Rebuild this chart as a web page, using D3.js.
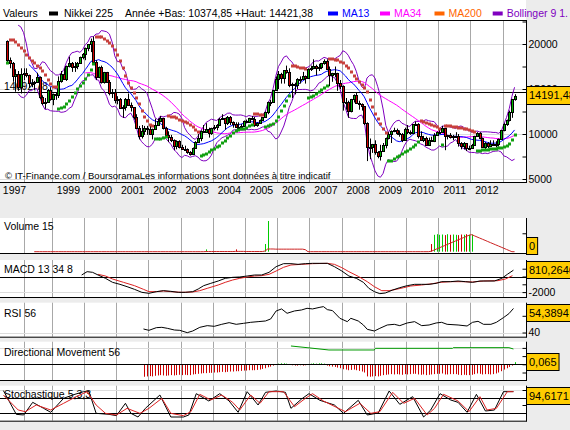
<!DOCTYPE html>
<html>
<head>
<meta charset="utf-8">
<script src="https://cdn.jsdelivr.net/npm/d3@7"></script>
<style>
html,body{margin:0;padding:0;background:#ececec;overflow:hidden}
svg{display:block}
text{font-family:"Liberation Sans",Arial,sans-serif}
</style>
</head>
<body>
<svg id="chart" width="570" height="430"></svg>
<script>
// ================= DATA =================
const seriesName = "Nikkei 225";
const headerInfo = "Année +Bas: 10374,85 +Haut: 14421,38";
const firstMonth = "1997-08";
const lastMonth = "2013-05";
const warmupFirstMonth = "1997-04";           // months only used to start the indicators
const warmupCloses = [19151, 20069, 20605, 20331];
const warmupVolumes = [0, 0, 0, 0];

const opens = [
 20331,18229,17888,16459,16636,
 15259,16628,16832,16527,15641,15671,15831,16379,14108,13406,13565,14883,
 13842,14499,14368,15837,16702,16112,17530,17862,17437,17606,17942,18558,
 18934,19540,19960,20337,17974,16332,17411,15727,16861,15747,14539,14649,
 13786,13843,12884,12999,13934,13262,12969,11861,10714,9775,10366,10697,
 10543,9998,10588,11025,11493,11764,10622,9878,9619,9383,8640,9216,
 8579,8340,8363,7973,7831,8425,9083,9563,10344,10219,10560,10101,
 10677,10784,11042,11715,11762,11236,11858,11326,11082,10824,10771,10899,
 11489,11388,11741,11669,11009,11277,11584,11900,12414,13574,13607,14872,
 16111,16650,16206,17060,16907,15467,15505,15457,16141,16128,16399,16274,
 17226,17383,17604,17288,17400,17876,18138,17249,16569,16786,16738,15681,
 15308,13592,13603,12526,13850,14339,13482,13377,13073,11260,8577,8512,
 8860,7994,7568,8110,8828,9523,9958,10357,10493,10133,10035,9346,
 10546,10198,10126,11090,11057,9769,9383,9537,8824,9369,9202,9937,
 10229,10238,10624,9755,9850,9694,9816,9833,8955,8700,8988,8435,
 8455,8803,9723,10084,9521,8543,9007,8695,8840,8870,8928,9446,
 10395,11139,11559,12398,13861];
const highs = [
 20400,18500,18000,17200,17000,
 17300,17300,17300,16600,16100,15900,16800,16400,14300,14000,15000,15200,
 14500,14600,16400,17000,17300,17600,18600,18000,18000,18000,18600,19000,
 19600,20000,20600,20833,18200,17500,17600,16900,16900,16000,15000,15000,
 14200,14000,13200,14000,14500,13500,13000,12200,10900,11000,10900,10900,
 10900,10600,11700,11700,12000,11800,10800,10300,9900,9400,9300,9300,
 8800,8700,8400,8100,8500,9200,10000,10400,11000,11200,10700,10700,
 11000,11100,11800,12200,11800,12000,12000,11400,11300,11300,11100,11500,
 11600,11800,12000,11900,11300,11600,11900,12500,13600,13800,14900,16400,
 17000,16800,17100,17600,17300,15700,15700,16200,16400,16900,16500,17300,
 17600,18300,17700,17800,17900,18300,18300,17500,16800,17500,16800,16000,
 15400,14000,13700,13900,14400,14600,13700,13400,13100,11300,9500,8900,
 9300,8100,8800,9000,9600,10200,10400,10700,10600,10400,10100,10700,
 11000,10400,11100,11400,11200,10300,9800,9700,9600,9700,10100,10300,
 10600,10900,10700,9900,10100,9900,10200,10000,9100,9100,9000,8700,
 8900,9800,10200,10200,9600,9100,9100,9300,9300,9200,9500,10400,
 11200,11600,12600,13900,14421];
const lows = [
 17900,17300,15800,14700,14800,
 14500,16000,16300,15100,15200,14900,15800,13900,13200,12800,13500,13700,
 13200,13800,14000,15700,16000,15900,17400,16900,16900,17200,17800,18300,
 18200,19200,19100,17800,16000,16200,15600,15600,15700,14300,14000,13400,
 13300,12800,11800,12600,13200,12500,11600,10600,9400,9500,9900,9900,
 9900,9400,10500,10900,11300,10500,9800,9100,9100,8200,8300,8400,
 8300,8300,7800,7600,7800,8400,9000,9200,10100,10200,9600,9900,
 10400,10400,10900,11700,10500,11000,11000,10700,10800,10600,10700,10900,
 11200,11300,11600,10800,10800,11200,11500,11800,12200,13100,13500,14800,
 15000,15600,15600,16700,15200,14000,14400,15000,15600,16000,15600,16200,
 17000,17200,16500,17000,17200,17700,17200,15300,15800,16300,14800,15000,
 12600,12700,11800,12400,13500,13400,12700,12600,11000,6990,7200,7900,
 7700,7300,7050,8000,8400,9400,9000,10200,9900,9700,9100,9300,
 10000,9900,10100,10900,9500,9300,9100,8800,8800,9200,9100,9900,
 10200,10200,8200,9400,9500,9300,9800,8600,8300,8300,8100,8200,
 8400,8800,9700,9400,8500,8300,8400,8600,8700,8500,8600,9400,
 10300,10900,11400,11800,13700];
const closes = [
 18229,17888,16459,16636,15259,
 16628,16832,16527,15641,15671,15831,16379,14108,13406,13565,14883,13842,
 14499,14368,15837,16702,16112,17530,17862,17437,17606,17942,18558,18934,
 19540,19960,20337,17974,16332,17411,15727,16861,15747,14539,14649,13786,
 13843,12884,12999,13934,13262,12969,11861,10714,9775,10366,10697,10543,
 9998,10588,11025,11493,11764,10622,9878,9619,9383,8640,9216,8579,
 8340,8363,7973,7831,8425,9083,9563,10344,10219,10560,10101,10677,
 10784,11042,11715,11762,11236,11858,11326,11082,10824,10771,10899,11489,
 11388,11741,11669,11009,11277,11584,11900,12414,13574,13607,14872,16111,
 16650,16206,17060,16907,15467,15505,15457,16141,16128,16399,16274,17226,
 17383,17604,17288,17400,17876,18138,17249,16569,16786,16738,15681,15308,
 13592,13603,12526,13850,14339,13482,13377,13073,11260,8577,8512,8860,
 7994,7568,8110,8828,9523,9958,10357,10493,10133,10035,9346,10546,
 10198,10126,11090,11057,9769,9383,9537,8824,9369,9202,9937,10229,
 10238,10624,9755,9850,9694,9816,9833,8955,8700,8988,8435,8455,
 8803,9723,10084,9521,8543,9007,8695,8840,8870,8928,9446,10395,
 11139,11559,12398,13861,14191.48];
const volumes = [
 0,0,0,0,0,
 0,0,0,0,0,0,0,0,0,0,0,0,
 0,0,0,0,0,0,0,0,0,0,0,0,
 0,0,0,0,0,0,0,0,0,0,0,0,
 0,0,0,0,0,0,0,0,0,0,0,0,
 0,0,0,0,0,0,0,0,0,0,0,0,
 0,0,0,0,0,0,0,0,0,7.5,0,0,
 0,0,0,0,0,0,0,0,7.5,0,0,0,
 0,0,0,0,0,0,0,25,100,0,0,0,
 0,0,0,0,0,0,0,0,0,0,0,0,
 0,0,0,0,0,0,0,0,0,0,0,0,
 0,0,0,0,0,0,0,0,0,0,0,0,
 0,0,0,0,0,0,0,0,0,0,0,0,
 0,0,0,0,0,0,0,0,0,25,55,57,
 55,56,54,57,55,56,55,54,56,55,57,55,
 56,0,0,0,0,0,0,0,0,0,0,0,
 0,0,0,0,0];

const refLevel = 14692.78;
const refLabel = "14692,78";
const lastLabel = "14191,48";

// MACD 13 34 8 : [decimal year, value]
const macdLine = [[1999.93,192],[2000.10,620],[2000.27,534],[2000.44,192],[2000.67,-235],[2000.89,-748],[2001.12,-1004],[2001.34,-1304],[2001.57,-1646],[2001.80,-2030],[2002.02,-2159],[2002.25,-1945],[2002.47,-1816],[2002.70,-1902],[2002.93,-2030],[2003.15,-2030],[2003.38,-1945],[2003.55,-1603],[2003.72,-1175],[2003.94,-876],[2004.17,-577],[2004.39,-235],[2004.62,-107],[2004.84,-64],[2005.07,64],[2005.30,192],[2005.52,192],[2005.75,534],[2005.97,1261],[2006.20,1645],[2006.43,1645],[2006.65,1560],[2006.88,1645],[2007.10,1688],[2007.33,1688],[2007.56,1688],[2007.78,1261],[2008.01,705],[2008.23,64],[2008.46,-235],[2008.68,-748],[2008.85,-1517],[2009.02,-1945],[2009.19,-2201],[2009.36,-2116],[2009.59,-1731],[2009.81,-1432],[2010.04,-1175],[2010.27,-1004],[2010.49,-1004],[2010.72,-1004],[2010.94,-876],[2011.11,-662],[2011.39,-662],[2011.62,-577],[2011.85,-662],[2012.07,-748],[2012.30,-577],[2012.52,-577],[2012.75,-577],[2012.98,-235],[2013.15,278],[2013.34,810.26]];
const macdSignal = [[2000.44,278],[2000.67,64],[2000.89,-321],[2001.23,-748],[2001.57,-1175],[2001.85,-1645],[2002.02,-1945],[2002.25,-1945],[2002.47,-1859],[2002.70,-1945],[2003.04,-2030],[2003.38,-1987],[2003.60,-1816],[2003.83,-1517],[2004.17,-1090],[2004.39,-748],[2004.62,-449],[2004.84,-235],[2005.07,-64],[2005.30,64],[2005.52,107],[2005.75,278],[2005.97,705],[2006.20,1175],[2006.43,1475],[2006.76,1560],[2007.10,1645],[2007.56,1688],[2007.78,1560],[2008.01,1133],[2008.23,620],[2008.52,21],[2008.80,-662],[2009.02,-1304],[2009.25,-1816],[2009.48,-1816],[2009.70,-1645],[2009.93,-1432],[2010.15,-1218],[2010.49,-1090],[2010.83,-919],[2011.06,-748],[2011.39,-662],[2011.73,-662],[2012.07,-705],[2012.41,-577],[2012.86,-534],[2013.09,-321],[2013.31,107]];
const macdLabel = "810,2646";

// RSI 56
const rsiLine = [[2001.85,42.1],[2002.02,41.3],[2002.25,42.9],[2002.42,43.1],[2002.59,42.5],[2002.81,41.5],[2002.98,41.3],[2003.21,39.9],[2003.38,40.9],[2003.60,43.1],[2003.83,44.1],[2004.05,43.7],[2004.28,44.9],[2004.51,45.9],[2004.73,44.9],[2004.96,45.5],[2005.18,46.1],[2005.41,46.5],[2005.64,46.9],[2005.80,48.1],[2005.97,52.9],[2006.14,54.1],[2006.31,51.5],[2006.54,52.9],[2006.76,53.5],[2006.93,54.5],[2007.10,54.1],[2007.33,55.1],[2007.44,55.5],[2007.56,53.7],[2007.72,53.1],[2007.95,48.5],[2008.18,46.5],[2008.29,48.5],[2008.52,46.9],[2008.68,44.5],[2008.80,41.9],[2009.02,40.9],[2009.19,42.5],[2009.42,44.5],[2009.64,44.9],[2009.81,44.1],[2010.04,45.7],[2010.27,46.5],[2010.49,44.1],[2010.72,44.5],[2010.94,45.7],[2011.11,46.1],[2011.28,44.9],[2011.62,44.5],[2011.90,43.9],[2012.07,46.1],[2012.24,46.7],[2012.41,44.9],[2012.64,44.9],[2012.81,46.1],[2013.03,48.9],[2013.20,51.3],[2013.34,54.39]];
const rsiLabel = "54,3894";

// Directional Movement 56
const dmLine = [[2006.43,0.558],[2006.93,0.507],[2007.61,0.436],[2009.02,0.436],[2009.05,0.487],[2011.45,0.487],[2011.47,0.507],[2013.20,0.507],[2013.34,0.466]];
const dmFirstMonth = "2001-11";
const dmBars = [
 -0.38,-0.37,
 -0.36,-0.37,-0.35,-0.34,-0.33,-0.34,-0.35,-0.34,-0.33,-0.34,-0.33,-0.32,
 -0.33,-0.32,-0.33,-0.33,-0.31,-0.30,-0.29,-0.28,-0.27,-0.27,-0.26,-0.26,
 -0.25,-0.25,-0.24,-0.23,-0.24,-0.23,-0.22,-0.22,-0.21,-0.21,-0.20,-0.19,
 -0.19,-0.18,-0.18,-0.18,-0.17,-0.16,-0.14,-0.12,-0.09,-0.07,-0.04,-0.02,
 0.02,0.03,0.03,0.02,0.01,-0.03,-0.04,-0.04,-0.03,-0.04,-0.03,0.01,
 0.02,0.03,0.02,0.03,0.03,0.02,-0.04,-0.06,-0.07,-0.08,-0.10,-0.12,
 -0.15,-0.16,-0.18,-0.17,-0.16,-0.18,-0.20,-0.22,-0.25,-0.37,-0.38,-0.37,
 -0.36,-0.37,-0.35,-0.33,-0.32,-0.31,-0.30,-0.31,-0.30,-0.31,-0.32,-0.30,
 -0.31,-0.30,-0.29,-0.29,-0.31,-0.32,-0.31,-0.33,-0.32,-0.31,-0.30,-0.29,
 -0.29,-0.28,-0.31,-0.31,-0.30,-0.30,-0.30,-0.32,-0.33,-0.32,-0.33,-0.33,
 -0.32,-0.30,-0.28,-0.29,-0.31,-0.30,-0.30,-0.31,-0.30,-0.28,-0.25,-0.21,
 -0.16,-0.12,-0.08,-0.04,0.065];
const dmLabel = "0,065";

// Stochastique 5,3,3
const stochK = [[1997.50,98],[1997.90,18.9],[1998.13,16.7],[1998.41,58.9],[1998.75,38.9],[1998.97,25.6],[1999.37,72.2],[1999.65,83.3],[1999.99,94.4],[2000.16,94.4],[2000.38,22.2],[2000.78,18.9],[2001.01,14.4],[2001.29,55.6],[2001.46,22.2],[2001.68,10],[2001.91,38.9],[2002.36,83.3],[2002.70,10],[2003.09,10],[2003.26,16.7],[2003.49,87.8],[2003.88,63.3],[2004.22,87.8],[2004.51,63.3],[2004.79,25.6],[2005.07,94.4],[2005.41,50],[2005.64,92.2],[2005.97,96.7],[2006.26,92.2],[2006.43,38.9],[2006.76,70],[2006.99,87.8],[2007.33,65.6],[2007.78,50],[2008.06,22.2],[2008.52,65.6],[2008.80,16.7],[2009.14,23.3],[2009.48,96.7],[2009.81,52.2],[2010.21,77.8],[2010.55,10],[2010.77,33.3],[2011.06,87.8],[2011.39,66.7],[2011.62,58.9],[2011.90,25.6],[2012.19,85.6],[2012.47,30],[2012.75,33.3],[2013.03,94.4],[2013.34,94.62]];
const stochD = [[1997.50,83.3],[1997.96,33.3],[1998.18,27.8],[1998.52,50],[1998.97,33.3],[1999.37,55.6],[1999.76,77.8],[2000.10,94.4],[2000.38,50],[2000.67,22.2],[2001.01,16.7],[2001.34,38.9],[2001.74,22.2],[2002.02,38.9],[2002.42,72.2],[2002.70,22.2],[2003.09,14.4],[2003.32,27.8],[2003.60,85.6],[2003.94,66.7],[2004.28,83.3],[2004.62,58.9],[2004.84,33.3],[2005.18,83.3],[2005.47,55.6],[2005.75,94.4],[2006.20,94.4],[2006.54,44.4],[2006.88,72.2],[2007.10,87.8],[2007.44,63.3],[2008.12,27.8],[2008.57,55.6],[2008.91,22.2],[2009.19,27.8],[2009.59,92.2],[2009.93,55.6],[2010.27,72.2],[2010.66,16.7],[2010.89,38.9],[2011.17,85.6],[2011.62,63.3],[2011.96,27.8],[2012.30,77.8],[2012.52,33.3],[2012.81,38.9],[2013.15,94.4],[2013.34,94.4]];
const stochLabel = "94,6171";

// axis ticks and labels
const gridYears = [1998.15,1999,2000,2001,2002,2003,2004,2005,2006,2007,2008,2009,2010,2011,2012,2013];
const xLabels = ["1997","1999","2000","2001","2002","2003","2004","2005","2006","2007","2008","2009","2010","2011","2012"];
const xLabelYears = [1997.83,1999.5,2000.5,2001.5,2002.5,2003.5,2004.5,2005.5,2006.5,2007.5,2008.5,2009.5,2010.5,2011.5,2012.5];
const priceTicks = [22500,20000,17500,15000,12500,10000,7500,5000];
const priceTickLabels = ["","20000","","15000","","10000","","5000"];
const legendItems = [["MA13","#0000ff"],["MA34","#ff00ff"],["MA200","#ff6600"],["Bollinger 9 1.","#8000c0"]];

// ================= DRAW =================
const svg = d3.select("#chart");
const W = 526;
const FS = 10.5;
const parse = d3.timeParse("%Y-%m");
const tOf = d => d.getFullYear() + (d.getMonth() + 0.5) / 12;
const monthDates = d3.timeMonth.range(parse(firstMonth), d3.timeMonth.offset(parse(lastMonth), 1));
const warmDates = d3.timeMonth.range(parse(warmupFirstMonth), parse(firstMonth));

const x = d3.scaleLinear().domain([1997, 2013]).range([-12.7, 502.5]);
const y = d3.scaleLinear().domain([5000, 20000]).range([179, 44]);

const candles = monthDates.map((d, i) => ({t: tOf(d), o: opens[i], h: highs[i], l: lows[i], c: closes[i], v: volumes[i]}));
const allT = warmDates.map(tOf).concat(monthDates.map(tOf));
const allC = warmupCloses.concat(closes);
const allV = warmupVolumes.concat(volumes);

function sma(arr, n) { return arr.map((v, i) => i < n - 1 ? null : d3.mean(arr.slice(i - n + 1, i + 1))); }
function boll(arr, n, k) {
  return arr.map((v, i) => {
    if (i < n - 1) return null;
    const s = arr.slice(i - n + 1, i + 1), m = d3.mean(s), sd = d3.deviation(s);
    return [m + k * sd, m - k * sd];
  });
}
function psar(h, l, step, maxAf) {
  const out = [];
  let up = true, af = step, ep = h[0], sar = l[0];
  out.push({s: sar, up});
  for (let i = 1; i < h.length; i++) {
    let nx = sar + af * (ep - sar);
    if (up) {
      nx = Math.min(nx, l[i - 1], l[Math.max(0, i - 2)]);
      if (l[i] < nx) { up = false; nx = ep; ep = l[i]; af = step; }
      else if (h[i] > ep) { ep = h[i]; af = Math.min(af + step, maxAf); }
    } else {
      nx = Math.max(nx, h[i - 1], h[Math.max(0, i - 2)]);
      if (h[i] > nx) { up = true; nx = ep; ep = h[i]; af = step; }
      else if (l[i] < ep) { ep = l[i]; af = Math.min(af + step, maxAf); }
    }
    sar = nx; out.push({s: sar, up});
  }
  return out;
}

const ma13 = sma(allC, 13).map((v, i) => ({t: allT[i], v}));
const ma34 = sma(allC, 34).map((v, i) => ({t: allT[i], v}));
const bb = boll(allC, 9, 2);
const bbUp = bb.map((b, i) => ({t: allT[i], v: b ? b[0] : null}));
const bbLo = bb.map((b, i) => ({t: allT[i], v: b ? b[1] : null}));
const sar = psar(highs, lows, 0.02, 0.2);
const volMa = sma(allV, 15).map((v, i) => ({t: allT[i], v}));

const crisp = v => Math.round(v) + 0.5;

// ---------- header ----------
svg.append("rect").attr("x", 0).attr("y", 0).attr("width", W).attr("height", 20).attr("fill", "#fff");
const hdr = svg.append("g").attr("font-size", FS);
hdr.append("text").attr("x", 3).attr("y", 16.5).text("Valeurs");
hdr.append("rect").attr("x", 49).attr("y", 11.5).attr("width", 9).attr("height", 4).attr("fill", "#000");
hdr.append("text").attr("x", 64).attr("y", 16.5).text(seriesName);
hdr.append("text").attr("x", 125).attr("y", 16.5).text(headerInfo);
const legX = [328, 380, 434.5, 492.7];
legendItems.forEach((it, i) => {
  hdr.append("rect").attr("x", legX[i]).attr("y", 11.5).attr("width", 10).attr("height", 4).attr("fill", it[1]);
  hdr.append("text").attr("x", legX[i] + 14).attr("y", 16.5).attr("fill", it[1]).text(it[0]);
});

// ---------- main panel ----------
const mTop = 20, mBot = 182;
svg.append("rect").attr("x", 0).attr("y", mTop).attr("width", W).attr("height", mBot - mTop).attr("fill", "#fff");
svg.append("clipPath").attr("id", "mclip").append("rect").attr("x", 0).attr("y", mTop).attr("width", W).attr("height", mBot - mTop);
const main = svg.append("g").attr("clip-path", "url(#mclip)");

function vGrid(g, top, bot) {
  g.selectAll(null).data(gridYears).enter().append("line")
    .attr("x1", d => crisp(x(d))).attr("x2", d => crisp(x(d)))
    .attr("y1", top).attr("y2", bot).attr("stroke", "#a8a8a8").attr("stroke-width", 1);
}
function hLine(g, yy, color) {
  g.append("line").attr("x1", 0).attr("x2", W).attr("y1", crisp(yy)).attr("y2", crisp(yy)).attr("stroke", color).attr("stroke-width", 1);
}
[20000, 15000, 10000, 5000].forEach(v => hLine(main, y(v), "#dcdcdc"));
vGrid(main, mTop, mBot);

main.append("text").attr("x", 4).attr("y", y(refLevel) - 2).attr("font-size", FS).text(refLabel);
hLine(main, y(refLevel), "#000");

const lineGen = sc => d3.line().defined(d => d.v != null).x(d => x(d.t)).y(d => sc(d.v));
main.append("path").datum(bbUp).attr("d", lineGen(y)).attr("fill", "none").attr("stroke", "#8000c0").attr("stroke-width", 1);
main.append("path").datum(bbLo).attr("d", lineGen(y)).attr("fill", "none").attr("stroke", "#8000c0").attr("stroke-width", 1);
main.append("path").datum(ma34).attr("d", lineGen(y)).attr("fill", "none").attr("stroke", "#ff00ff").attr("stroke-width", 1);
main.append("path").datum(ma13).attr("d", lineGen(y)).attr("fill", "none").attr("stroke", "#0000ff").attr("stroke-width", 1);

// candles
const cg = main.append("g");
candles.forEach(d => {
  const px = Math.round(x(d.t));
  cg.append("line").attr("x1", px + 0.5).attr("x2", px + 0.5).attr("y1", y(d.h)).attr("y2", y(d.l)).attr("stroke", "#000");
  const top = Math.round(y(Math.max(d.o, d.c))), bot = Math.round(y(Math.min(d.o, d.c)));
  cg.append("rect").attr("x", px - 0.5).attr("y", top + 0.5).attr("width", 2).attr("height", Math.max(1, bot - top))
    .attr("fill", d.c >= d.o ? "#00b400" : "#d00000").attr("stroke", "#000").attr("stroke-width", 1);
});
// parabolic SAR dots
const sg = main.append("g");
sar.forEach((s, i) => {
  sg.append("rect").attr("x", Math.round(x(candles[i].t)) - 1).attr("y", Math.round(y(s.s)) - 1.5)
    .attr("width", 3).attr("height", 3).attr("fill", s.up ? "#12a012" : "#c8403c");
});
main.append("text").attr("x", 5).attr("y", 178.5).attr("font-size", 9.5)
  .text("© IT-Finance.com / BoursoramaLes informations sont données à titre indicatif");

svg.append("line").attr("x1", 0).attr("x2", W + 0.5).attr("y1", 20.5).attr("y2", 20.5).attr("stroke", "#000");
svg.append("line").attr("x1", 0).attr("x2", W + 0.5).attr("y1", mBot + 0.5).attr("y2", mBot + 0.5).attr("stroke", "#000");

function rightAxis(sc, ticks, labels, top, bot) {
  const ax = d3.axisRight(sc).tickValues(ticks).tickSizeInner(-4).tickSizeOuter(0).tickPadding(2)
    .tickFormat((d, i) => labels[i]);
  const g = svg.append("g").attr("transform", `translate(${W + 0.5},0)`).call(ax);
  g.select(".domain").remove();
  g.selectAll("text").attr("font-size", FS).attr("font-family", "Liberation Sans, Arial, sans-serif").attr("fill", "#000");
  g.selectAll("line").attr("stroke", "#000");
  svg.append("line").attr("x1", W + 0.5).attr("x2", W + 0.5).attr("y1", top).attr("y2", bot + 1).attr("stroke", "#000");
}
rightAxis(y, priceTicks, priceTickLabels, mTop, mBot);

function valueBox(text, vy, top, bot, h) {
  let y0 = Math.max(top + 1, Math.min(bot - h, vy - h / 2 - 1));
  y0 = Math.round(y0);
  const g = svg.append("g");
  const r = g.append("rect");
  const t = g.append("text").attr("x", 529).attr("y", y0 + h / 2 + 4).attr("font-size", 11).text(text);
  const w = t.node().getComputedTextLength();
  r.attr("x", W + 0.5).attr("y", y0 + 0.5).attr("width", w + 5).attr("height", h).attr("fill", "#ffcc00").attr("stroke", "#000");
}
valueBox(lastLabel, y(closes[closes.length - 1]), mTop, mBot, 18);

// x axis labels
const xa = d3.axisBottom(x).tickValues(xLabelYears).tickSize(0).tickPadding(0).tickFormat((d, i) => xLabels[i]);
const xg = svg.append("g").attr("transform", "translate(0,186)").call(xa);
xg.select(".domain").remove();
xg.selectAll("text").attr("font-size", FS).attr("font-family", "Liberation Sans, Arial, sans-serif").attr("fill", "#000").attr("dy", "0.75em");

// ---------- lower panels ----------
function lowerPanel(p) {
  svg.append("rect").attr("x", 0).attr("y", p.top).attr("width", W).attr("height", p.bot - p.top).attr("fill", "#fff");
  const g = svg.append("g");
  vGrid(g, p.top, p.bot);
  return g;
}
function finishPanel(p, sc, ticks, labels, label, vy) {
  svg.append("line").attr("x1", 0).attr("x2", W + 0.5).attr("y1", p.bot + 0.5).attr("y2", p.bot + 0.5).attr("stroke", "#000");
  rightAxis(sc, ticks, labels, p.top, p.bot);
  valueBox(label, vy, p.top, p.bot + 0.5, 17);
}
const pairLine = sc => d3.line().x(d => x(d[0])).y(d => sc(d[1]));

// Volume
const pV = {top: 218, bot: 253};
const yV = d3.scaleLinear().domain([0, 100]).range([251.7, 221]);
let g = lowerPanel(pV);
g.append("text").attr("x", 4).attr("y", 230).attr("font-size", FS).text("Volume 15");
candles.forEach(d => {
  if (d.v > 0) {
    const px = Math.round(x(d.t)) + 0.5;
    g.append("line").attr("x1", px).attr("x2", px).attr("y1", yV(0)).attr("y2", yV(d.v))
      .attr("stroke", d.c >= d.o ? "#00cc00" : "#cc0000");
  }
});
g.append("path").datum(volMa).attr("d", lineGen(yV)).attr("fill", "none").attr("stroke", "#cc2222");
finishPanel(pV, yV, [60], [""], "0", yV(0));

// MACD
const pM = {top: 260, bot: 297};
const yM = d3.scaleLinear().domain([-2000, 1000]).range([292.1, 268.7]);
g = lowerPanel(pM);
hLine(g, yM(-2000), "#dcdcdc");
hLine(g, yM(0), "#000");
g.append("text").attr("x", 4).attr("y", 273).attr("font-size", FS).text("MACD 13 34 8");
g.append("path").datum(macdSignal).attr("d", pairLine(yM)).attr("fill", "none").attr("stroke", "#dd2222");
g.append("path").datum(macdLine).attr("d", pairLine(yM)).attr("fill", "none").attr("stroke", "#000");
finishPanel(pM, yM, [1000, 0, -1000, -2000], ["", "", "", "-2000"], macdLabel, yM(macdLine[macdLine.length - 1][1]));

// RSI
const pR = {top: 302.7, bot: 336.7};
const yR = d3.scaleLinear().domain([40, 50]).range([332.5, 315.8]);
g = lowerPanel(pR);
hLine(g, yR(40), "#dcdcdc");
g.append("text").attr("x", 4).attr("y", 317).attr("font-size", FS).text("RSI 56");
g.append("path").datum(rsiLine).attr("d", pairLine(yR)).attr("fill", "none").attr("stroke", "#000");
finishPanel(pR, yR, [50, 40], ["", "40"], rsiLabel, yR(rsiLine[rsiLine.length - 1][1]));

// Directional movement
const pD = {top: 341.7, bot: 380};
const yD = d3.scaleLinear().domain([0, 0.25]).range([364.3, 356.1]);
g = lowerPanel(pD);
hLine(g, yD(0.5), "#dcdcdc");
g.append("text").attr("x", 4).attr("y", 356).attr("font-size", FS).text("Directional Movement 56");
const dmDates = d3.timeMonth.range(parse(dmFirstMonth), d3.timeMonth.offset(parse(lastMonth), 1));
dmBars.forEach((v, i) => {
  const px = Math.round(x(tOf(dmDates[i]))) + 0.5;
  g.append("line").attr("x1", px).attr("x2", px).attr("y1", yD(0)).attr("y2", yD(v))
    .attr("stroke", v >= 0 ? "#00cc00" : "#cc0000");
});
hLine(g, yD(0), "#000");
g.append("path").datum(dmLine).attr("d", pairLine(yD)).attr("fill", "none").attr("stroke", "#009900");
finishPanel(pD, yD, [0.5, 0.25, 0, -0.25], ["", "", "", ""], dmLabel, yD(dmBars[dmBars.length - 1]));

// Stochastic
const pS = {top: 385.7, bot: 420.7};
const yS = d3.scaleLinear().domain([0, 100]).range([420, 390]);
g = lowerPanel(pS);
hLine(g, yS(100), "#dcdcdc");
g.append("text").attr("x", 4).attr("y", 398).attr("font-size", FS).text("Stochastique 5,3,3");
hLine(g, yS(75), "#000");
hLine(g, yS(25), "#000");
g.append("path").datum(stochK).attr("d", pairLine(yS)).attr("fill", "none").attr("stroke", "#000");
g.append("path").datum(stochD).attr("d", pairLine(yS)).attr("fill", "none").attr("stroke", "#dd2222");
finishPanel(pS, yS, [100, 50], ["", ""], stochLabel, yS(stochK[stochK.length - 1][1]));
</script>
</body>
</html>
